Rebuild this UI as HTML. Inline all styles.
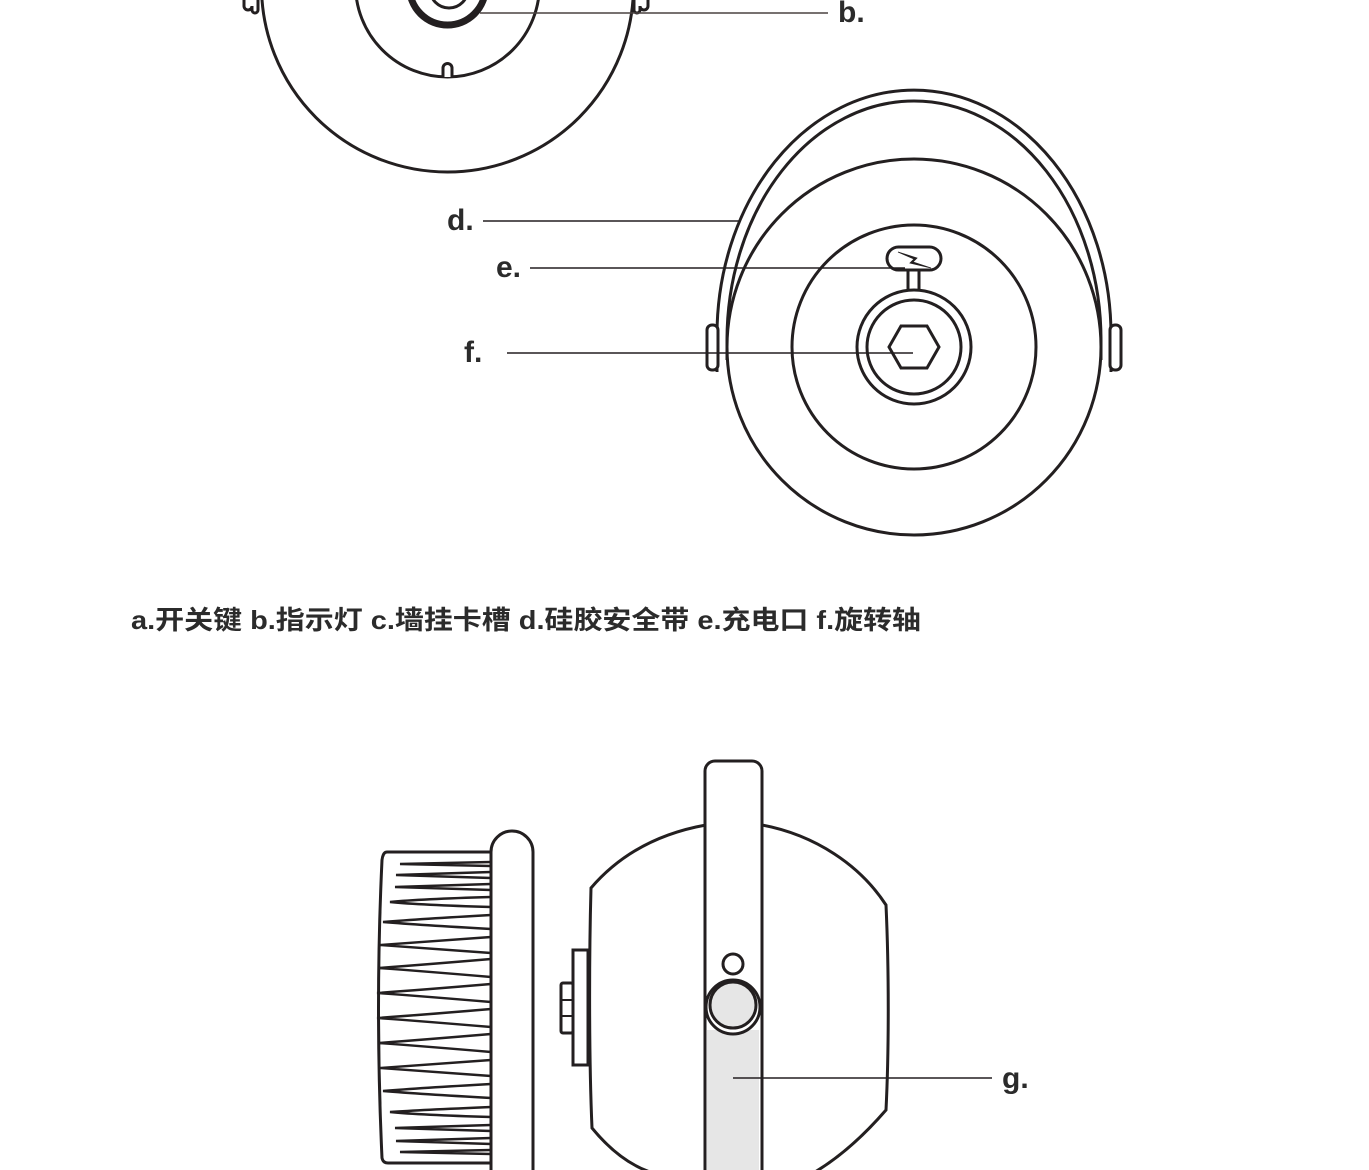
<!DOCTYPE html>
<html><head><meta charset="utf-8"><style>
html,body{margin:0;padding:0;background:#fff;}
svg{display:block;}
.t{font-family:"Liberation Sans","Noto Sans CJK SC",sans-serif;font-weight:bold;fill:#2b2b2b;}
</style></head><body>
<svg width="1369" height="1170" viewBox="0 0 1369 1170" xmlns="http://www.w3.org/2000/svg">
<g fill="none" stroke="#231f20" stroke-width="3">
<circle cx="447.5" cy="-14" r="186"/>
<circle cx="447.5" cy="-15" r="92"/>
<circle cx="447.5" cy="-13" r="38" stroke-width="7"/>
<circle cx="449" cy="-11" r="19"/>
<path d="M443 77 V68 a4.5 4.5 0 0 1 9 0 V77" fill="#fff"/>
<path d="M244 0 v6 a4 4 0 0 0 8 0 v4 a3 3 0 0 0 6 0 V0"/>
<path d="M634 0 v10 a3 3 0 0 0 6 0 v-4 a4 4 0 0 0 8 0 V0"/>
<line x1="480" y1="13" x2="828" y2="13" stroke-width="1.6" stroke="#4a4241"/>
<path d="M717 372 V335 A197 245 0 0 1 1111 335 V372"/>
<path d="M727 360 V340 A187 239 0 0 1 1101 340 V360"/>
<rect x="707" y="325" width="11" height="45" rx="5" fill="#fff"/>
<rect x="1110" y="325" width="11" height="45" rx="5" fill="#fff"/>
<ellipse cx="914" cy="347" rx="187" ry="188" fill="#fff"/>
<circle cx="914" cy="347" r="122"/>
<rect x="887" y="247" width="54" height="23" rx="11.5"/>
<path d="M898 252 L917 258 L913 262 L931 268 L910 263 L914 259 Z" fill="#231f20" stroke-width="0.8"/>
<path d="M908 270 V291 M919 270 V291"/>
<circle cx="914" cy="347" r="57"/>
<circle cx="914" cy="347" r="47"/>
<polygon points="889,347 901,326 927,326 939,347 927,368 901,368"/>
<line x1="483" y1="221" x2="740" y2="221" stroke-width="1.6"/>
<line x1="530" y1="268" x2="905" y2="268" stroke-width="1.6"/>
<line x1="507" y1="353" x2="913" y2="353" stroke-width="1.6"/>
<path d="M706 825 C650 835 615 860 591 888 C589 960 589 1060 592 1128 C610 1150 630 1165 650 1172 M762 825 C815 835 860 865 886 905 C889 970 889 1050 886 1110 C860 1140 835 1160 815 1172"/>
<rect x="707" y="1030" width="52" height="142" fill="#e6e6e6" stroke="none"/>
<path d="M705 1172 V771 a10 10 0 0 1 10 -10 H752 a10 10 0 0 1 10 10 V1172"/>
<circle cx="733" cy="1007" r="27" fill="#fff"/>
<circle cx="733" cy="1005" r="23" fill="#e6e6e6"/>
<circle cx="733" cy="964" r="10"/>
<rect x="573" y="950" width="15" height="115" fill="#fff"/>
<rect x="561" y="983" width="12" height="50" rx="2"/>
<path d="M561 1000 H573 M561 1016 H573" stroke-width="2"/>
<line x1="733" y1="1078" x2="992" y2="1078" stroke-width="1.6"/>
<path d="M491 852 H387 Q383 852 382 860 Q375 1008 382 1158 Q383 1163 388 1163 H491"/>
<path d="M491 1172 V852 a21 21 0 0 1 42 0 V1172" fill="#fff"/>
<g stroke-width="2.4">
<path d="M491 862 L400 864 L491 866"/>
<path d="M491 872 L396 875 L491 878"/>
<path d="M491 884 L395 887 L491 890"/>
<path d="M491 897 Q420 899 390 902 Q420 905 491 907"/>
<path d="M491 915 Q420 919 383 922 Q420 925 491 929"/>
<path d="M491 937 Q420 942 380 945 Q420 948 491 953"/>
<path d="M491 959 Q420 965 378 968 Q420 971 491 977"/>
<path d="M491 984 Q420 990 377 993 Q420 996 491 1002"/>
<path d="M491 1009 Q420 1015 377 1018 Q420 1021 491 1027"/>
<path d="M491 1034 Q420 1040 378 1043 Q420 1046 491 1052"/>
<path d="M491 1060 Q420 1065 380 1068 Q420 1071 491 1076"/>
<path d="M491 1084 Q420 1088 383 1091 Q420 1094 491 1098"/>
<path d="M491 1107 Q420 1110 390 1112 Q420 1115 491 1117"/>
<path d="M491 1125 L395 1128 L491 1131"/>
<path d="M491 1138 L396 1141 L491 1144"/>
<path d="M491 1150 L400 1152 L491 1154"/>
</g>
</g>
<text class="t" x="838" y="22" font-size="30">b.</text>
<text class="t" x="447" y="230" font-size="30">d.</text>
<text class="t" x="496" y="277" font-size="30">e.</text>
<text class="t" x="464" y="362" font-size="30">f.</text>
<text class="t" x="1002" y="1088" font-size="30">g.</text>
<text class="t" x="131" y="629" font-size="26" textLength="790" lengthAdjust="spacingAndGlyphs">a.开关键 b.指示灯 c.墙挂卡槽 d.硅胶安全带 e.充电口 f.旋转轴</text>
</svg>
</body></html>
